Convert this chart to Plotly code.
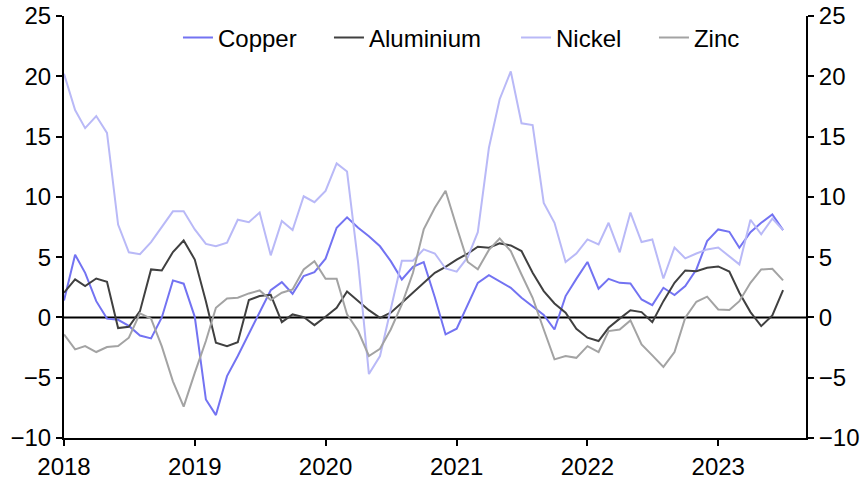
import plotly.graph_objects as go
import pandas as pd

dates = pd.date_range("2018-01-01", periods=67, freq="MS")

copper = [1.4, 5.2, 3.7, 1.35, -0.1, -0.2, -0.7, -1.5, -1.74, 0.0,
          3.07, 2.8, 0.05, -6.8, -8.1, -4.87, -3.2, -1.4, 0.4, 2.26,
          2.93, 1.96, 3.43, 3.76, 4.87, 7.44, 8.3, 7.44, 6.74, 5.9,
          4.67, 3.15, 4.2, 4.59, 1.68, -1.41, -0.94, 1.08, 2.87, 3.5,
          3.0, 2.46, 1.63, 0.94, 0.2, -1.0, 1.77, 3.2, 4.6, 2.38,
          3.2, 2.87, 2.82, 1.49, 1.02, 2.46, 1.85, 2.6, 3.98, 6.33,
          7.3, 7.1, 5.78, 7.07, 7.85, 8.54, 7.24]

aluminium = [2.05, 3.15, 2.6, 3.23, 2.96, -0.88, -0.77, 0.52, 3.98, 3.9,
             5.42, 6.38, 4.8, 1.35, -2.1, -2.38, -2.05, 1.44, 1.77, 1.88,
             -0.39, 0.25, 0.03, -0.64, 0.05, 0.8, 2.15, 1.35, 0.6, -0.03,
             0.39, 1.22, 2.05, 2.87, 3.7, 4.2, 4.8, 5.3, 5.86, 5.78,
             6.14, 5.97, 5.5, 3.7, 2.18, 1.16, 0.39, -0.94, -1.68, -1.96,
             -0.86, -0.1, 0.6, 0.44, -0.39, 1.35, 2.87, 3.9, 3.84, 4.12,
             4.23, 3.81, 2.05, 0.44, -0.72, 0.17, 2.26]

nickel = [20.2, 17.2, 15.7, 16.7, 15.3, 7.7, 5.4, 5.25, 6.25, 7.5,
          8.8, 8.8, 7.3, 6.1, 5.9, 6.2, 8.1, 7.9, 8.7, 5.15,
          8.0, 7.25, 10.05, 9.56, 10.5, 12.77, 12.1, 4.5, -4.7, -3.2,
          0.8, 4.7, 4.7, 5.64, 5.3, 4.06, 3.8, 5.0, 7.07, 14.07,
          18.1, 20.4, 16.1, 15.95, 9.5, 7.85, 4.6, 5.3, 6.47, 6.05,
          7.85, 5.4, 8.7, 6.25, 6.47, 3.23, 5.8, 4.9, 5.3, 5.64,
          5.8, 5.1, 4.4, 8.1, 6.9, 8.2, 7.25]

zinc = [-1.41, -2.65, -2.38, -2.87, -2.46, -2.38, -1.68, 0.33, -0.1, -2.4,
        -5.3, -7.4, -4.6, -1.96, 0.8, 1.58, 1.63, 1.99, 2.24, 1.44,
        2.05, 2.32, 3.98, 4.67, 3.2, 3.2, 0.25, -1.13, -3.2, -2.6,
        -1.0, 1.08, 3.7, 7.3, 9.1, 10.5, 7.5, 4.6, 4.0, 5.6,
        6.55, 5.5, 3.56, 1.63, -1.0, -3.48, -3.2, -3.35, -2.38, -2.87,
        -1.13, -1.0, -0.25, -2.24, -3.15, -4.1, -2.87, -0.03, 1.3, 1.72,
        0.66, 0.61, 1.35, 2.87, 3.98, 4.04, 3.07]

series = [
    ("Copper", copper, "#7373f2"),
    ("Aluminium", aluminium, "#404040"),
    ("Nickel", nickel, "#b9b9f7"),
    ("Zinc", zinc, "#a3a3a3"),
]

year_ticks = ["2018-01-01", "2019-01-01", "2020-01-01", "2021-01-01", "2022-01-01", "2023-01-01"]
year_labels = ["2018", "2019", "2020", "2021", "2022", "2023"]
y_ticks = [-10, -5, 0, 5, 10, 15, 20, 25]

FONT = "Arial, 'Liberation Sans', sans-serif"
FS = 24

legend_x = [0.1536, 0.3571, 0.6092, 0.7951]
legend_names = ["legend", "legend2", "legend3", "legend4"]

fig = go.Figure()
for i, (name, vals, col) in enumerate(series):
    fig.add_trace(go.Scatter(
        x=dates, y=vals, name=name, mode="lines",
        line=dict(color=col, width=2),
        legend=legend_names[i],
        yaxis="y2" if i == len(series) - 1 else "y",
    ))

fig.add_hline(y=0, line=dict(color="black", width=2), layer="below")

axis_common = dict(
    showgrid=False, zeroline=False,
    showline=True, linecolor="black", linewidth=2,
    ticks="outside", ticklen=6, tickwidth=2, tickcolor="black",
    tickfont=dict(size=FS), automargin=False, ticklabeloverflow="allow",
)

layout_legends = {}
for i, ln in enumerate(legend_names):
    layout_legends[ln] = dict(
        orientation="h", x=legend_x[i], y=(438 - 38) / 422,
        xanchor="left", yanchor="middle",
        font=dict(size=FS), bgcolor="rgba(0,0,0,0)",
    )

fig.update_layout(
    width=867, height=481,
    margin=dict(l=64, r=61, t=16, b=43),
    paper_bgcolor="white", plot_bgcolor="white",
    font=dict(family=FONT, size=FS, color="black"),
    showlegend=True,
    xaxis=dict(
        type="date", range=["2018-01-01", "2023-09-03"],
        tickvals=year_ticks, ticktext=year_labels, **axis_common,
    ),
    yaxis=dict(range=[-10, 25], tickvals=y_ticks, **axis_common),
    yaxis2=dict(range=[-10, 25], tickvals=y_ticks, overlaying="y", side="right",
                **axis_common),
    **layout_legends,
)

# remove the default page margin so the figure sits at the window's top-left corner
fig.write_html("out.html", config={"displayModeBar": False},
               post_script="document.body.style.margin='0';")
